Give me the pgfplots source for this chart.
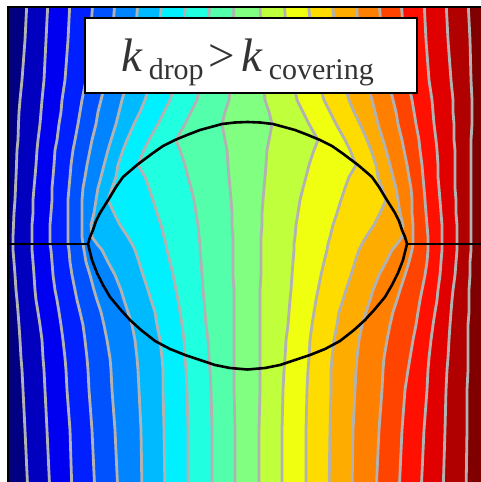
\documentclass[border=0pt]{standalone}
\usepackage{pgfplots}
\pgfplotsset{compat=1.18}
\usepackage{pgfplotstable}
\usepgfplotslibrary{fillbetween}
\usepackage{fontspec}
\setmainfont{Liberation Serif}
\definecolor{c1}{RGB}{0,0,128}
\definecolor{c2}{RGB}{0,0,190}
\definecolor{c3}{RGB}{0,0,240}
\definecolor{c4}{RGB}{0,32,255}
\definecolor{c5}{RGB}{0,82,255}
\definecolor{c6}{RGB}{0,132,255}
\definecolor{c7}{RGB}{0,186,255}
\definecolor{c8}{RGB}{0,240,255}
\definecolor{c9}{RGB}{32,255,224}
\definecolor{c10}{RGB}{84,255,172}
\definecolor{c11}{RGB}{128,255,128}
\definecolor{c12}{RGB}{192,255,60}
\definecolor{c13}{RGB}{240,255,16}
\definecolor{c14}{RGB}{255,220,0}
\definecolor{c15}{RGB}{255,172,0}
\definecolor{c16}{RGB}{255,128,0}
\definecolor{c17}{RGB}{255,68,0}
\definecolor{c18}{RGB}{255,16,0}
\definecolor{c19}{RGB}{224,0,0}
\definecolor{c20}{RGB}{176,0,0}
\definecolor{c21}{RGB}{128,0,0}
\definecolor{isogray}{RGB}{178,178,178}
\pgfplotstableread{
y L1 L2 L3 L4 L5 L6 L7 L8 L9 L10 L11 L12 L13 L14 L15 L16 L17 L18 L19 L20
0 27 48 70 93 115 138 162 186 210 234 260 284 308 332 356 379 401 424 446 468
40 25 46 68 90 112 135 158 182 207 233 261 287 312 336 359 382 404 426 448 470
80 22 44 65 86 106 128 151 176 201 231 263 293 318 343 366 388 408 429 451 471
100 20 42 62 82 101 122 145 170 197 229 265 297 324 349 372 393 412 432 453 472
112 19 41 61 80 98 119 140 164 191 225 269 303 330 354 375 396 414 433 453 472
124 18.5 40 59 78 96 116 134 158 185 222 272 309 336 360 378 398 416 434 454 472
140 18 38 57 75 92 111 127 149 176 225 269 318 345 367 383 402 419 436 454 471
150 17 37 55 73 90 108 123 144 180 227 267 314 350 371 386 404 420 437 455 471
165 16.5 36 54 71 87 104 118 138 185 228 266 309 356 376 390 407 422 438 455 471
177 16 35 53 70 85 101 116 145 188 229 265 306 349 378 393 409 423 438 455 471
188 15.5 34 52 69 83 98 112 149 191 230 264 303 345 382 396 411 424 439 455 471
200 15 33 52 68 82 96 108 153 194 231 263 300 341 386 398 412 425 440 456 471
213 14 33 51 68 82 94 114 157 196 232 262 298 337 380 400 412 426 441 456 471
225 13.5 32 50 68 82 91 120 161 198 232 262 296 333 374 403 413 427 442 457 471
237 13 32 50 68 82 92 128 164 199 233 261 295 330 366 402 413 428 442 457 471
244 13 32 50 68 83 97 132 166 200 233 261 294 328 362 397 413 428 442 457 471
250 13 32 51 69 84 102 135 167 200 233 261 294 327 359 392 412 428 442 457 471
262 14 33 52 70 86 108 139 170 201 233 261 293 324 355 386 409 427 441 456 470
275 15 34 53 72 90 115 143 173 202 233 261 292 321 351 379 405 425 440 455 470
290 16 35 55 75 94 121 148 176 203 234 260 291 318 346 373 400 422 438 453 469
300 17 36 57 77 97 124 151 178 204 234 260 290 316 343 370 397 420 437 452 469
312 18 38 59 80 101 128 155 180 205 234 260 289 314 339 366 393 418 435 451 469
325 19 40 61 83 104 132 157 182 206 234 260 288 312 337 362 390 416 433 450 468
340 20 42 63 85 107 135 160 184 208 234 260 286 310 334 359 387 413 431 449 468
358 21 43 65 87 110 137 162 185 209 234 260 285 309 332 357 384 410 429 448 468
370 22 44 66 88 111 138 163 186 210 234 260 284 308 331 356 383 408 428 447 468
390 23 45 67 89 112 139 163 187 211 234 260 283 307 331 355 382 405 427 446 467
430 25 47 70 92 115 141 164 188 212 235 259 282 306 330 353 379 402 424 445 467
495 28 50 72 95 118 142 165 188 212 235 259 282 306 329 352 376 399 421 443 466
}\isodata
\begin{document}
\begin{tikzpicture}
\begin{axis}[
  at={(8pt,-8pt)}, anchor=south west,
  scale only axis, width=482pt, height=483pt,
  xmin=8, xmax=490, ymin=7, ymax=490,
  y dir=reverse, ticks=none, axis on top,
  axis line style={line width=2.5pt, black},
]
\addplot[draw=none, name path=L0] coordinates {(0,0) (0,495)};
\addplot[draw=none, name path=L21] coordinates {(500,0) (500,495)};
\pgfplotsinvokeforeach{1,...,20}{
  \addplot[draw=none, name path=L#1] table[x=L#1, y=y] {\isodata};
}
\addplot[c1, draw=none] fill between[of=L0 and L1, reverse=true];
\addplot[c2, draw=none] fill between[of=L1 and L2, reverse=true];
\addplot[c3, draw=none] fill between[of=L2 and L3, reverse=true];
\addplot[c4, draw=none] fill between[of=L3 and L4, reverse=true];
\addplot[c5, draw=none] fill between[of=L4 and L5, reverse=true];
\addplot[c6, draw=none] fill between[of=L5 and L6, reverse=true];
\addplot[c7, draw=none] fill between[of=L6 and L7, reverse=true];
\addplot[c8, draw=none] fill between[of=L7 and L8, reverse=true];
\addplot[c9, draw=none] fill between[of=L8 and L9, reverse=true];
\addplot[c10, draw=none] fill between[of=L9 and L10, reverse=true];
\addplot[c11, draw=none] fill between[of=L10 and L11, reverse=true];
\addplot[c12, draw=none] fill between[of=L11 and L12, reverse=true];
\addplot[c13, draw=none] fill between[of=L12 and L13, reverse=true];
\addplot[c14, draw=none] fill between[of=L13 and L14, reverse=true];
\addplot[c15, draw=none] fill between[of=L14 and L15, reverse=true];
\addplot[c16, draw=none] fill between[of=L15 and L16, reverse=true];
\addplot[c17, draw=none] fill between[of=L16 and L17, reverse=true];
\addplot[c18, draw=none] fill between[of=L17 and L18, reverse=true];
\addplot[c19, draw=none] fill between[of=L18 and L19, reverse=true];
\addplot[c20, draw=none] fill between[of=L19 and L20, reverse=true];
\addplot[c21, draw=none] fill between[of=L20 and L21, reverse=true];
\pgfplotsinvokeforeach{1,...,20}{
  \addplot[isogray, line width=2.8pt, line join=round] table[x=L#1, y=y] {\isodata};
}
% drop outline
\addplot[black, line width=2.6pt, line join=round] coordinates {
(88,244)(90,237)(93,230)(96,221)(100,213)(105,205)(110,197)(116,187)(123,177)(130,171)(137,165)(145,159)(153,153)(163,146)(175,140)(187,135)(200,130)(211,127)(222,124)(235,122.5)(247.5,122)(260,122.5)(273,124)(284,127)(295,130)(308,135)(320,140)(332,146)(342,153)(350,159)(358,165)(365,171)(372,177)(379,187)(385,197)(390,205)(395,213)(399,221)(402,230)(405,237)(407,244)
(403,260)(398,273)(392,285)(385,297)(375,309)(365,320)(354,330)(340,341)(325,349)(310,355)(295,360)(280,365)(265,368)(247.5,369.5)(230,368)(215,365)(200,360)(185,355)(170,349)(155,341)(141,330)(130,320)(120,309)(110,297)(103,285)(97,273)(92,260)(88,244)};
\addplot[black, line width=2.6pt] coordinates {(0,244)(88,244)};
\addplot[black, line width=2.6pt] coordinates {(407,244)(500,244)};
% title box
\draw[fill=white, draw=black, line width=1.2pt] (axis cs:85,18) rectangle (axis cs:417,93);
\node[anchor=base west, inner sep=0pt, text=black!80] at (axis cs:121,72)
 {\fontsize{47pt}{50pt}\selectfont\textit{k}\kern6pt\raisebox{-8pt}{\fontsize{30pt}{30pt}\selectfont drop}\kern5pt>\kern6pt\textit{k}\kern6pt\raisebox{-8pt}{\fontsize{30pt}{30pt}\selectfont covering}};
\end{axis}
\pgfresetboundingbox
\useasboundingbox (0,0) rectangle (481pt,482pt);
\end{tikzpicture}
\end{document}
